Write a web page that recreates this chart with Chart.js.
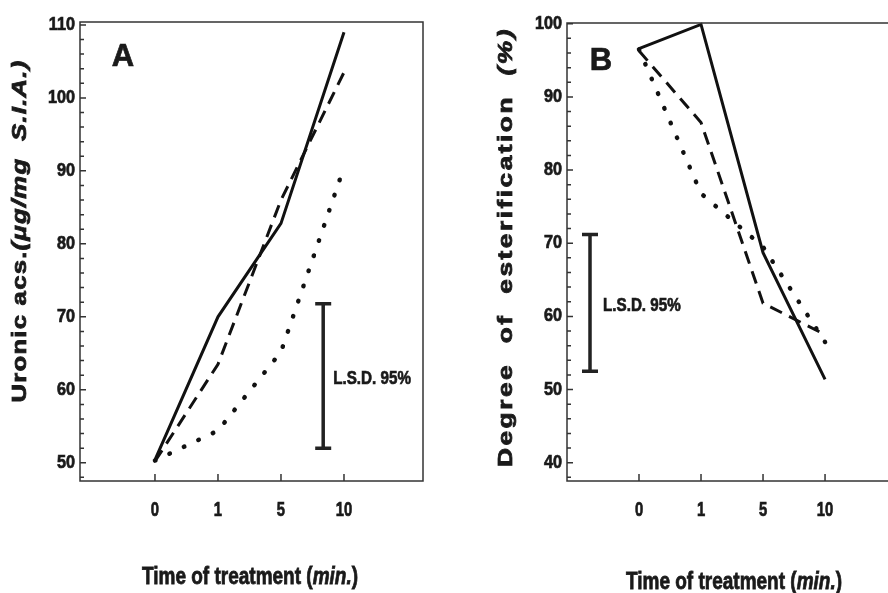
<!DOCTYPE html>
<html>
<head>
<meta charset="utf-8">
<script src="https://cdn.jsdelivr.net/npm/chart.js@4.4.1/dist/chart.umd.min.js"></script>
<style>
  html, body { margin: 0; padding: 0; background: #fff; width: 888px; height: 593px; overflow: hidden; }
  #wrapA { position: absolute; left: 0; top: 0; width: 444px; height: 593px; }
  #wrapB { position: absolute; left: 444px; top: 0; width: 470px; height: 593px; }
</style>
</head>
<body>
<div id="wrapA"><canvas id="chartA"></canvas></div>
<div id="wrapB"><canvas id="chartB"></canvas></div>
<script>
// time of treatment (min), shown as evenly spaced categories
const xLabels = ["0", "1", "5", "10"];
const xIndex = [0, 1, 2, 3];

// panel A: uronic acids (ug/mg S.I.A.)
const uronicSolid = [50.4, 70.0, 82.8, 109.0];
const uronicDashed = [50.2, 63.5, 86.0, 103.5];
const uronicDotted = [50.3, 54.4, 65.2, 90.5];
const uronicTicks = [50, 60, 70, 80, 90, 100, 110];
const uronicLsd = [52.0, 71.8];

// panel B: degree of esterification (%)
const esterSolid = [96.6, 99.9, 68.7, 51.4];
const esterDashed = [96.3, 86.5, 61.8, 57.5];
const esterDotted = [96.5, 76.8, 69.5, 56.5];
const esterTicks = [40, 50, 60, 70, 80, 90, 100];
const esterLsd = [52.5, 71.2];

const INK = "#1a1a1a";
const SANS = '"Liberation Sans", Arial, "DejaVu Sans", sans-serif';

function toPoints(vals) {
  return xIndex.map((x, i) => ({ x: x, y: vals[i] }));
}

// text squeezed along its baseline and a little emboldened (the scans use a heavy narrow face)
function squeezed(ctx, text, x, y, font, sx, align) {
  ctx.save();
  ctx.font = font;
  ctx.fillStyle = INK;
  ctx.strokeStyle = INK;
  ctx.lineWidth = 0.7;
  ctx.textBaseline = "middle";
  const w = ctx.measureText(text).width * sx;
  const left = align === "right" ? x - w : align === "center" ? x - w / 2 : x;
  ctx.translate(left, y);
  ctx.scale(sx, 1);
  ctx.textAlign = "left";
  ctx.fillText(text, 0, 0);
  ctx.strokeText(text, 0, 0);
  ctx.restore();
}

// a run of differently styled pieces, fitted to a given length, centred on (cx, cy)
function drawParts(ctx, parts, cx, cy, rot, len) {
  ctx.save();
  ctx.translate(cx, cy);
  if (rot) ctx.rotate(rot);
  ctx.textBaseline = "middle";
  ctx.textAlign = "left";
  let total = 0;
  const widths = parts.map(p => {
    ctx.font = p.font;
    ctx.letterSpacing = p.spacing || "0px";
    const w = ctx.measureText(p.text).width;
    total += w;
    return w;
  });
  ctx.scale(len / total, 1);
  let pos = -total / 2;
  ctx.fillStyle = INK;
  ctx.strokeStyle = INK;
  ctx.lineWidth = 0.8;
  parts.forEach((p, i) => {
    ctx.font = p.font;
    ctx.letterSpacing = p.spacing || "0px";
    ctx.fillText(p.text, pos, 0);
    ctx.strokeText(p.text, pos, 0);
    pos += widths[i];
  });
  ctx.restore();
}

const frame = {
  id: "frame",
  afterDatasetsDraw(chart, args, o) {
    const { ctx, chartArea: a } = chart;
    const x = chart.scales.x, y = chart.scales.y;
    ctx.save();
    ctx.strokeStyle = "#333";
    ctx.lineWidth = 1.5;
    ctx.strokeRect(a.left, a.top, a.right - a.left, a.bottom - a.top);
    ctx.beginPath();
    for (let v = Math.ceil(y.min / 2) * 2; v <= y.max; v += 2) {
      const py = y.getPixelForValue(v);
      const len = v % 10 === 0 ? 6 : 4;
      ctx.moveTo(a.left, py);
      ctx.lineTo(a.left + len, py);
    }
    xIndex.forEach(v => {
      const px = x.getPixelForValue(v);
      ctx.moveTo(px, a.bottom);
      ctx.lineTo(px, a.bottom - 7);
    });
    ctx.stroke();
    ctx.restore();

    // tick labels
    o.yTicks.forEach(v => {
      squeezed(ctx, String(v), a.left - 5, y.getPixelForValue(v), "bold 18px " + SANS, 0.9, "right");
    });
    xIndex.forEach((v, i) => {
      squeezed(ctx, xLabels[i], x.getPixelForValue(v), a.bottom + 29, "bold 20px " + SANS, 0.74, "center");
    });

    // L.S.D. bar
    const bx = x.getPixelForValue(o.lsdX);
    const y0 = y.getPixelForValue(o.lsd[0]);
    const y1 = y.getPixelForValue(o.lsd[1]);
    ctx.save();
    ctx.strokeStyle = "#222";
    ctx.lineWidth = 3.5;
    ctx.beginPath();
    ctx.moveTo(bx, y0); ctx.lineTo(bx, y1);
    ctx.moveTo(bx - 8, y0); ctx.lineTo(bx + 8, y0);
    ctx.moveTo(bx - 8, y1); ctx.lineTo(bx + 8, y1);
    ctx.stroke();
    ctx.restore();
    squeezed(ctx, "L.S.D. 95%", bx + o.lsdGap, (y0 + y1) / 2 + 3, "bold 19px " + SANS, 0.8, "left");

    // panel letter
    squeezed(ctx, o.letter, a.left + o.letterDx, a.top + o.letterDy, "bold 31px " + SANS, 1, "center");

    drawParts(ctx, o.yTitle, o.yTitlePos[0], o.yTitlePos[1], -Math.PI / 2, o.yTitleLen);
    drawParts(ctx, [
      { text: "Time of treatment (", font: "bold 24px " + SANS },
      { text: "min.", font: "italic bold 24px " + SANS },
      { text: ")", font: "bold 24px " + SANS }
    ], o.xTitlePos[0], o.xTitlePos[1], 0, 216);
  }
};

function makeChart(id, series, yMin, yMax, xMin, xMax, axisWidth, pad, deco) {
  const styles = [
    { borderDash: [], borderWidth: 3, borderCapStyle: "butt" },
    { borderDash: [13, 8], borderWidth: 3, borderCapStyle: "butt" },
    { borderDash: [0.5, 15.5], borderWidth: 4.5, borderCapStyle: "round" }
  ];
  return new Chart(document.getElementById(id), {
    type: "line",
    data: {
      datasets: series.map((vals, i) => Object.assign({
        data: toPoints(vals),
        borderColor: "#111",
        pointRadius: 0,
        tension: 0,
        fill: false,
        clip: false
      }, styles[i]))
    },
    options: {
      responsive: true,
      maintainAspectRatio: false,
      animation: false,
      layout: { padding: pad },
      plugins: { legend: { display: false }, tooltip: { enabled: false }, frame: deco },
      scales: {
        x: {
          type: "linear",
          min: xMin,
          max: xMax,
          afterBuildTicks: s => { s.ticks = xIndex.map(v => ({ value: v })); },
          afterFit: s => { s.height = 112; },
          grid: { display: false },
          border: { display: false },
          ticks: { display: false }
        },
        y: {
          type: "linear",
          min: yMin,
          max: yMax,
          afterBuildTicks: s => { s.ticks = deco.yTicks.map(v => ({ value: v })); },
          afterFit: s => { s.width = axisWidth; },
          grid: { display: false },
          border: { display: false },
          ticks: { display: false }
        }
      }
    },
    plugins: [frame]
  });
}

makeChart("chartA", [uronicSolid, uronicDashed, uronicDotted], 47.5, 110.4,
  -1.19, 4.254, 80, { top: 22, right: 21, bottom: 0, left: 0 }, {
    yTicks: uronicTicks,
    lsd: uronicLsd, lsdX: 2.67, lsdGap: 10,
    letter: "A", letterDx: 43, letterDy: 35,
    yTitle: [
      { text: "Uronic acs.", font: "bold 21px " + SANS, spacing: "1px" },
      { text: "(\u03bcg/mg  S.I.A.)", font: "italic bold 21px " + SANS, spacing: "1px" }
    ],
    yTitlePos: [20, 231], yTitleLen: 343,
    xTitlePos: [250, 577]
  });

makeChart("chartB", [esterSolid, esterDashed, esterDotted], 37.5, 100.1,
  -1.161, 4.37, 123, { top: 23, right: 4, bottom: 0, left: 0 }, {
    yTicks: esterTicks,
    lsd: esterLsd, lsdX: -0.79, lsdGap: 13,
    letter: "B", letterDx: 34, letterDy: 38,
    yTitle: [
      { text: "Degree  of  esterification  ", font: "bold 21px " + SANS, spacing: "2px" },
      { text: "(%)", font: "italic bold 21px " + SANS, spacing: "2px" }
    ],
    yTitlePos: [62, 247], yTitleLen: 440,
    xTitlePos: [290, 582]
  });
</script>
</body>
</html>
